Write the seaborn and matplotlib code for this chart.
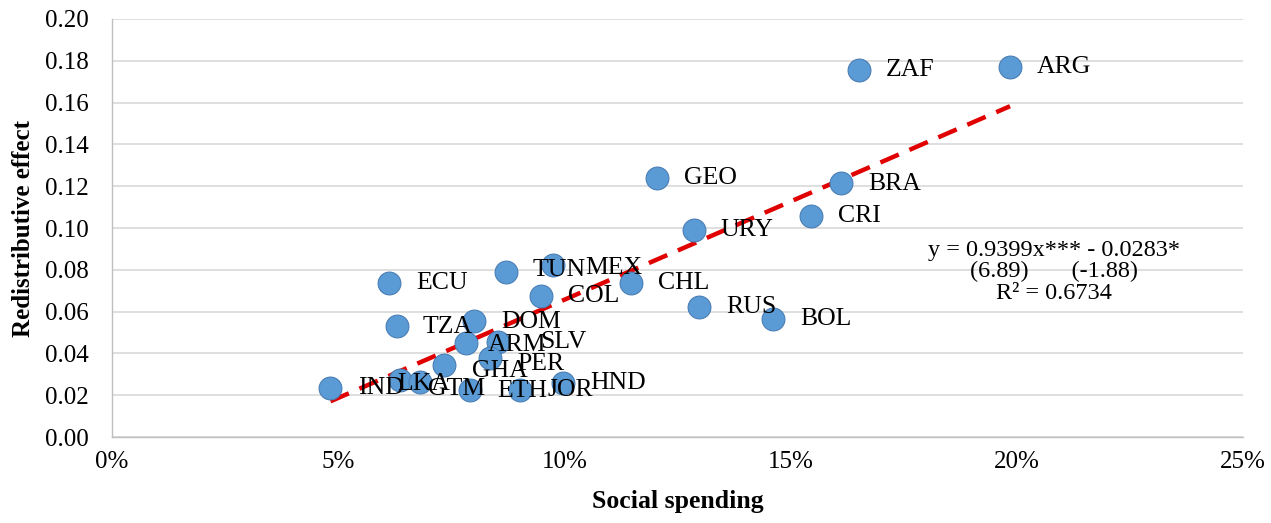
#!/usr/bin/env python3

import matplotlib.pyplot as plt
import matplotlib.ticker as mticker
import numpy as np
import pandas as pd
import seaborn as sns

countries = ["ZAF", "ARG", "GEO", "BRA", "CRI", "URY", "RUS", "BOL", "CHL", "MEX",
             "TUN", "COL", "ECU", "TZA", "DOM", "ARM", "SLV", "PER", "GHA", "IND",
             "GTM", "LKA", "ETH", "JOR", "HND"]
social_spending = [0.1651, 0.1985, 0.1205, 0.1611, 0.1545, 0.1286, 0.1298, 0.1461, 0.1148, 0.0975,
                   0.0872, 0.0948, 0.0613, 0.0629, 0.0800, 0.0782, 0.0854, 0.0836, 0.0734, 0.0483,
                   0.0637, 0.0681, 0.0791, 0.0902, 0.0998]
redistributive_effect = [0.1756, 0.1770, 0.1239, 0.1215, 0.1057, 0.0990, 0.0622, 0.0565, 0.0735, 0.0823,
                         0.0791, 0.0675, 0.0735, 0.0531, 0.0556, 0.0451, 0.0456, 0.0377, 0.0344, 0.0233,
                         0.0273, 0.0265, 0.0225, 0.0225, 0.0257]

slope = 0.9399
intercept = -0.0283

# label offsets in points (Excel-style labels, some dragged by hand)
label_offsets = {
    "MEX": (23, -2), "TUN": (19, 1), "ARM": (16, -1.5), "SLV": (30, 0),
    "PER": (19.5, -4.3), "GHA": (20, -4.3), "DOM": (20, -1), "LKA": (-16.5, -1.5),
    "GTM": (20, -6.5), "ETH": (20, -1), "TZA": (19, -1), "BRA": (19.5, -1),
}

df = pd.DataFrame({"country": countries, "x": social_spending, "y": redistributive_effect})

sns.set_style("white")
plt.rcParams["font.family"] = ["Liberation Serif", "DejaVu Serif"]

fig = plt.figure(figsize=(12.71, 5.23), dpi=100)
ax = fig.add_axes([0.0881, 0.1644, 0.8899, 0.7993])

ax.grid(axis="y", color="#D9D9D9", linewidth=1.2)
ax.set_axisbelow(True)

# trend line over the data range
trend_x = np.array([df["x"].min(), df["x"].max()])
trend = pd.DataFrame({"x": trend_x, "y": slope * trend_x + intercept})
sns.lineplot(data=trend, x="x", y="y", ax=ax, color="#E00000", linewidth=3.2,
             linestyle=(0, (4.5, 2.6)), zorder=2)

sns.scatterplot(data=df, x="x", y="y", ax=ax, s=270, color="#5B9BD5",
                edgecolor="#4A7EB5", linewidth=0.8, zorder=3)

for _, row in df.iterrows():
    dx, dy = label_offsets.get(row["country"], (19.5, 0))
    ax.annotate(row["country"], (row["x"], row["y"]), xytext=(dx, dy),
                textcoords="offset points", ha="left", va="center",
                fontsize=18.5, color="black", zorder=4)

ax.text(0.2082, 0.079, "y = 0.9399x*** - 0.0283*\n(6.89)       (-1.88)\nR² = 0.6734",
        ha="center", va="center", fontsize=17.5, linespacing=1.05, color="black")

ax.set_xlim(0, 0.25)
ax.set_ylim(0, 0.20)
ax.xaxis.set_major_locator(mticker.MultipleLocator(0.05))
ax.xaxis.set_major_formatter(mticker.PercentFormatter(1.0, decimals=0))
ax.yaxis.set_major_locator(mticker.MultipleLocator(0.02))
ax.yaxis.set_major_formatter(mticker.FormatStrFormatter("%.2f"))
ax.tick_params(axis="both", labelsize=18, length=0, labelcolor="black")
ax.tick_params(axis="y", pad=17)
ax.tick_params(axis="x", pad=10)

for side in ["top", "right"]:
    ax.spines[side].set_visible(False)
for side in ["left", "bottom"]:
    ax.spines[side].set_color("#BFBFBF")
    ax.spines[side].set_linewidth(1.0)

ax.set_xlabel("Social spending", fontsize=18.5, fontweight="bold", labelpad=12, color="black")
ax.set_ylabel("Redistributive effect", fontsize=18, fontweight="bold", labelpad=7, color="black")

fig.savefig("out.png", dpi=100)
